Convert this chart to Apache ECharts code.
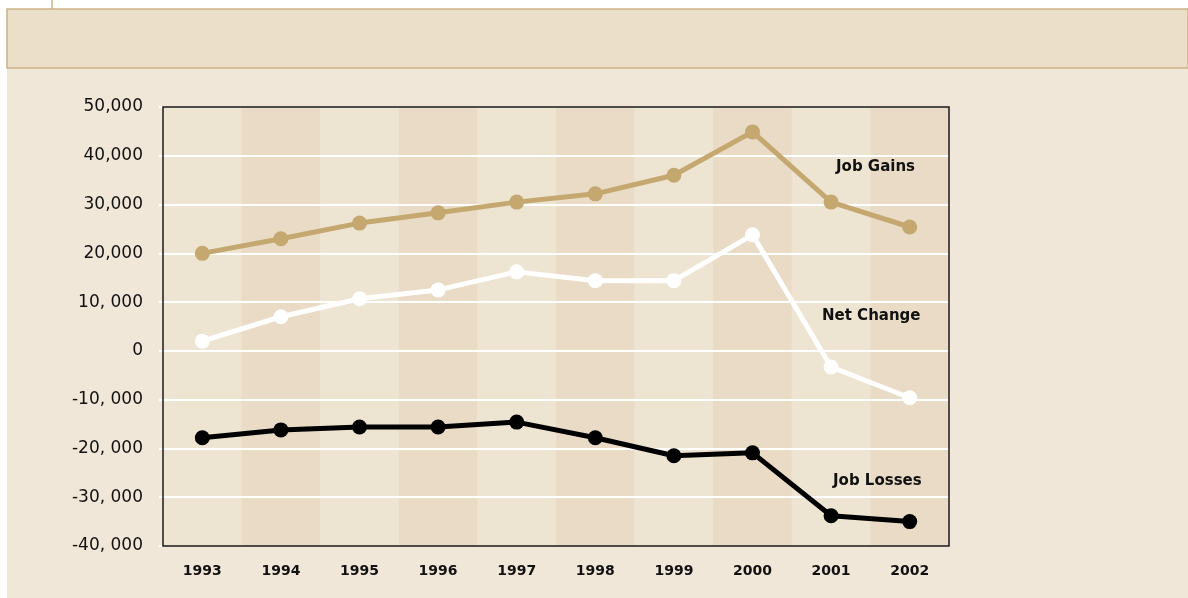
<!DOCTYPE html>
<html>
<head>
<meta charset="utf-8">
<style>
  html, body { margin: 0; padding: 0; background: #ffffff; }
  #chart { width: 1188px; height: 598px; }
</style>
<script src="https://cdn.jsdelivr.net/npm/echarts@6/dist/echarts.min.js"></script>
</head>
<body>
<div id="chart"></div>
<script>
  // years on the x axis
  var years = ['1993', '1994', '1995', '1996', '1997', '1998', '1999', '2000', '2001', '2002']

  var jobGains = [20000, 23000, 26200, 28300, 30500, 32200, 36000, 44900, 30500, 25400]
  var netChange = [2000, 7000, 10700, 12500, 16200, 14400, 14400, 23800, -3300, -9600]
  var jobLosses = [-17800, -16200, -15600, -15600, -14600, -17800, -21500, -20900, -33800, -35000]

  // y tick labels as printed (note the odd spacing)
  var yTickLabels = {
    '50000': '50,000', '40000': '40,000', '30000': '30,000', '20000': '20,000',
    '10000': '10, 000', '0': '0', '-10000': '-10, 000', '-20000': '-20, 000',
    '-30000': '-30, 000', '-40000': '-40, 000'
  }

  var fontFamily = '"DejaVu Sans", "Noto Sans", sans-serif'

  // plot box
  var gridLeft = 163, gridTop = 107, gridWidth = 786, gridHeight = 439

  var chart = echarts.init(document.getElementById('chart'), null, { renderer: 'canvas' })

  function lineSeries(name, data, color) {
    return {
      name: name,
      type: 'line',
      data: data,
      symbol: 'circle',
      symbolSize: 15,
      z: 5,
      lineStyle: { color: color, width: 5 },
      itemStyle: { color: color },
      emphasis: { disabled: true },
      animation: false
    }
  }

  chart.setOption({
    backgroundColor: '#ffffff',
    animation: false,
    graphic: [
      // page background + header band
      { type: 'rect', z: -10, shape: { x: 7, y: 68, width: 1181, height: 530 }, style: { fill: '#f1e7d9' } },
      { type: 'rect', z: -10, shape: { x: 7, y: 9, width: 1181, height: 59 }, style: { fill: '#ebdfc9', stroke: '#c9b385', lineWidth: 1.5 } },
      { type: 'line', z: -10, shape: { x1: 52, y1: 0, x2: 52, y2: 9 }, style: { stroke: '#c9b385', lineWidth: 1.5 } },
      // frame round the plot
      { type: 'rect', z: 3, shape: { x: gridLeft, y: gridTop, width: gridWidth, height: gridHeight }, style: { fill: null, stroke: '#1a1a1a', lineWidth: 1.5 } },
      { type: 'text', z: 10, left: 836, top: 160, style: { text: 'Job Gains', font: 'bold 15px ' + fontFamily, fill: '#111' } },
      { type: 'text', z: 10, left: 822, top: 309, style: { text: 'Net Change', font: 'bold 15px ' + fontFamily, fill: '#111' } },
      { type: 'text', z: 10, left: 833, top: 474, style: { text: 'Job Losses', font: 'bold 15px ' + fontFamily, fill: '#111' } }
    ],
    grid: {
      left: gridLeft,
      top: gridTop,
      width: gridWidth,
      height: gridHeight,
      show: false
    },
    xAxis: {
      type: 'category',
      data: years,
      boundaryGap: true,
      z: 0,
      axisLine: { show: false },
      axisTick: { show: false },
      splitArea: {
        show: true,
        areaStyle: { color: ['#eee4d2', '#e9dbc5'] }
      },
      axisLabel: {
        color: '#111',
        fontFamily: fontFamily,
        fontWeight: 'bold',
        fontSize: 14,
        margin: 18
      }
    },
    yAxis: {
      type: 'value',
      min: -40000,
      max: 50000,
      interval: 10000,
      z: 2,
      axisLine: { show: false },
      axisTick: { show: true, length: 4, lineStyle: { color: '#ffffff', width: 2 } },
      splitLine: { show: true, showMinLine: false, showMaxLine: false, lineStyle: { color: '#ffffff', width: 2 } },
      axisLabel: {
        color: '#111',
        fontFamily: fontFamily,
        fontSize: 17,
        margin: 20,
        padding: [5, 0, 0, 0],
        formatter: function (v) { return yTickLabels[String(v)] }
      }
    },
    series: [
      lineSeries('Job Gains', jobGains, '#c4a870'),
      lineSeries('Net Change', netChange, '#ffffff'),
      lineSeries('Job Losses', jobLosses, '#000000')
    ]
  })
</script>
</body>
</html>
